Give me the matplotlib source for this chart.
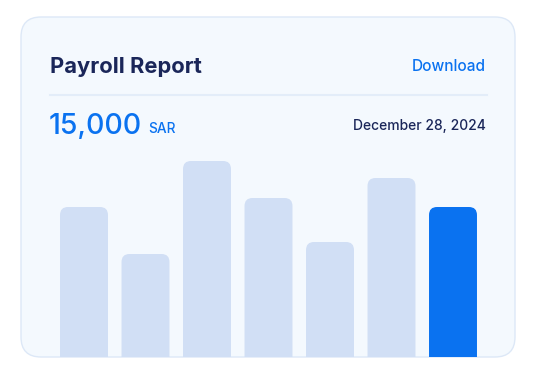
import matplotlib.pyplot as plt
from matplotlib.patches import FancyBboxPatch
import numpy as np

W, H = 536, 375

# chart data
periods = ['P1', 'P2', 'P3', 'P4', 'P5', 'P6', 'P7']
payroll = [150, 103, 196, 159, 115, 179, 150]
highlight = 6

title = 'Payroll Report'
link_text = 'Download'
total_text = '15,000'
currency = 'SAR'
date_text = 'December 28, 2024'

navy = '#1a2659'
blue = '#0a72f0'
light_bar = '#d1dff5'
card_bg = '#f4f9fe'
card_edge = '#dde8f7'

plt.rcParams['font.family'] = ['Inter', 'DejaVu Sans']

fig = plt.figure(figsize=(W / 100, H / 100), dpi=100)
fig.patch.set_facecolor('white')

# background axes in pixel coords
bg = fig.add_axes([0, 0, 1, 1])
bg.set_xlim(0, W)
bg.set_ylim(H, 0)
bg.axis('off')

card = FancyBboxPatch((21, 17), 494, 340, boxstyle='round,pad=0,rounding_size=20',
                      facecolor=card_bg, edgecolor='none', zorder=0)
bg.add_patch(card)
card_border = FancyBboxPatch((21, 17), 494, 340, boxstyle='round,pad=0,rounding_size=20',
                             facecolor='none', edgecolor=card_edge, lw=1.0, zorder=10)
bg.add_patch(card_border)

bg.plot([50, 487], [95, 95], color='#e3edf9', lw=1.5, zorder=1)

bg.text(50, 73, title, fontsize=15.8, fontweight='bold', color=navy, va='baseline')
bg.text(486, 71, link_text, fontsize=11.1, fontweight='medium', color=blue,
        va='baseline', ha='right')
bg.text(49, 134, total_text, fontsize=20.5, fontweight='medium', color=blue, va='baseline')
bg.text(148, 133, currency, fontsize=9.9, fontweight='medium', color=blue, va='baseline')
bg.text(486, 130, date_text, fontsize=10.0, fontweight='medium', color=navy,
        va='baseline', ha='right')

# bar axes: baseline at y=357 px, 1 y unit = 1 px
x0, x1 = 84 - 30.75, 453 + 30.75
ax = fig.add_axes([x0 / W, (H - 357) / H, (x1 - x0) / W, 200 / H])
ax.set_xlim(-0.5, len(periods) - 0.5)
ax.set_ylim(0, 200)
ax.axis('off')
ax.patch.set_alpha(0)

bars = ax.bar(range(len(periods)), payroll, width=0.78)
fig.canvas.draw()
px_x = ax.transData.transform((1, 0))[0] - ax.transData.transform((0, 0))[0]
px_y = ax.transData.transform((0, 1))[1] - ax.transData.transform((0, 0))[1]
aspect = px_x / px_y
for i, b in enumerate(bars):
    b.set_visible(False)
    bx, bw, bh = b.get_x(), b.get_width(), b.get_height()
    c = blue if i == highlight else light_bar
    p = FancyBboxPatch((bx, -30), bw, bh + 30,
                       boxstyle='round,pad=0,rounding_size=%f' % (8 / px_x),
                       mutation_aspect=aspect, facecolor=c, edgecolor='none')
    ax.add_patch(p)
    p.set_clip_path(ax.patch)

fig.savefig('out.png', dpi=100, facecolor='white')
